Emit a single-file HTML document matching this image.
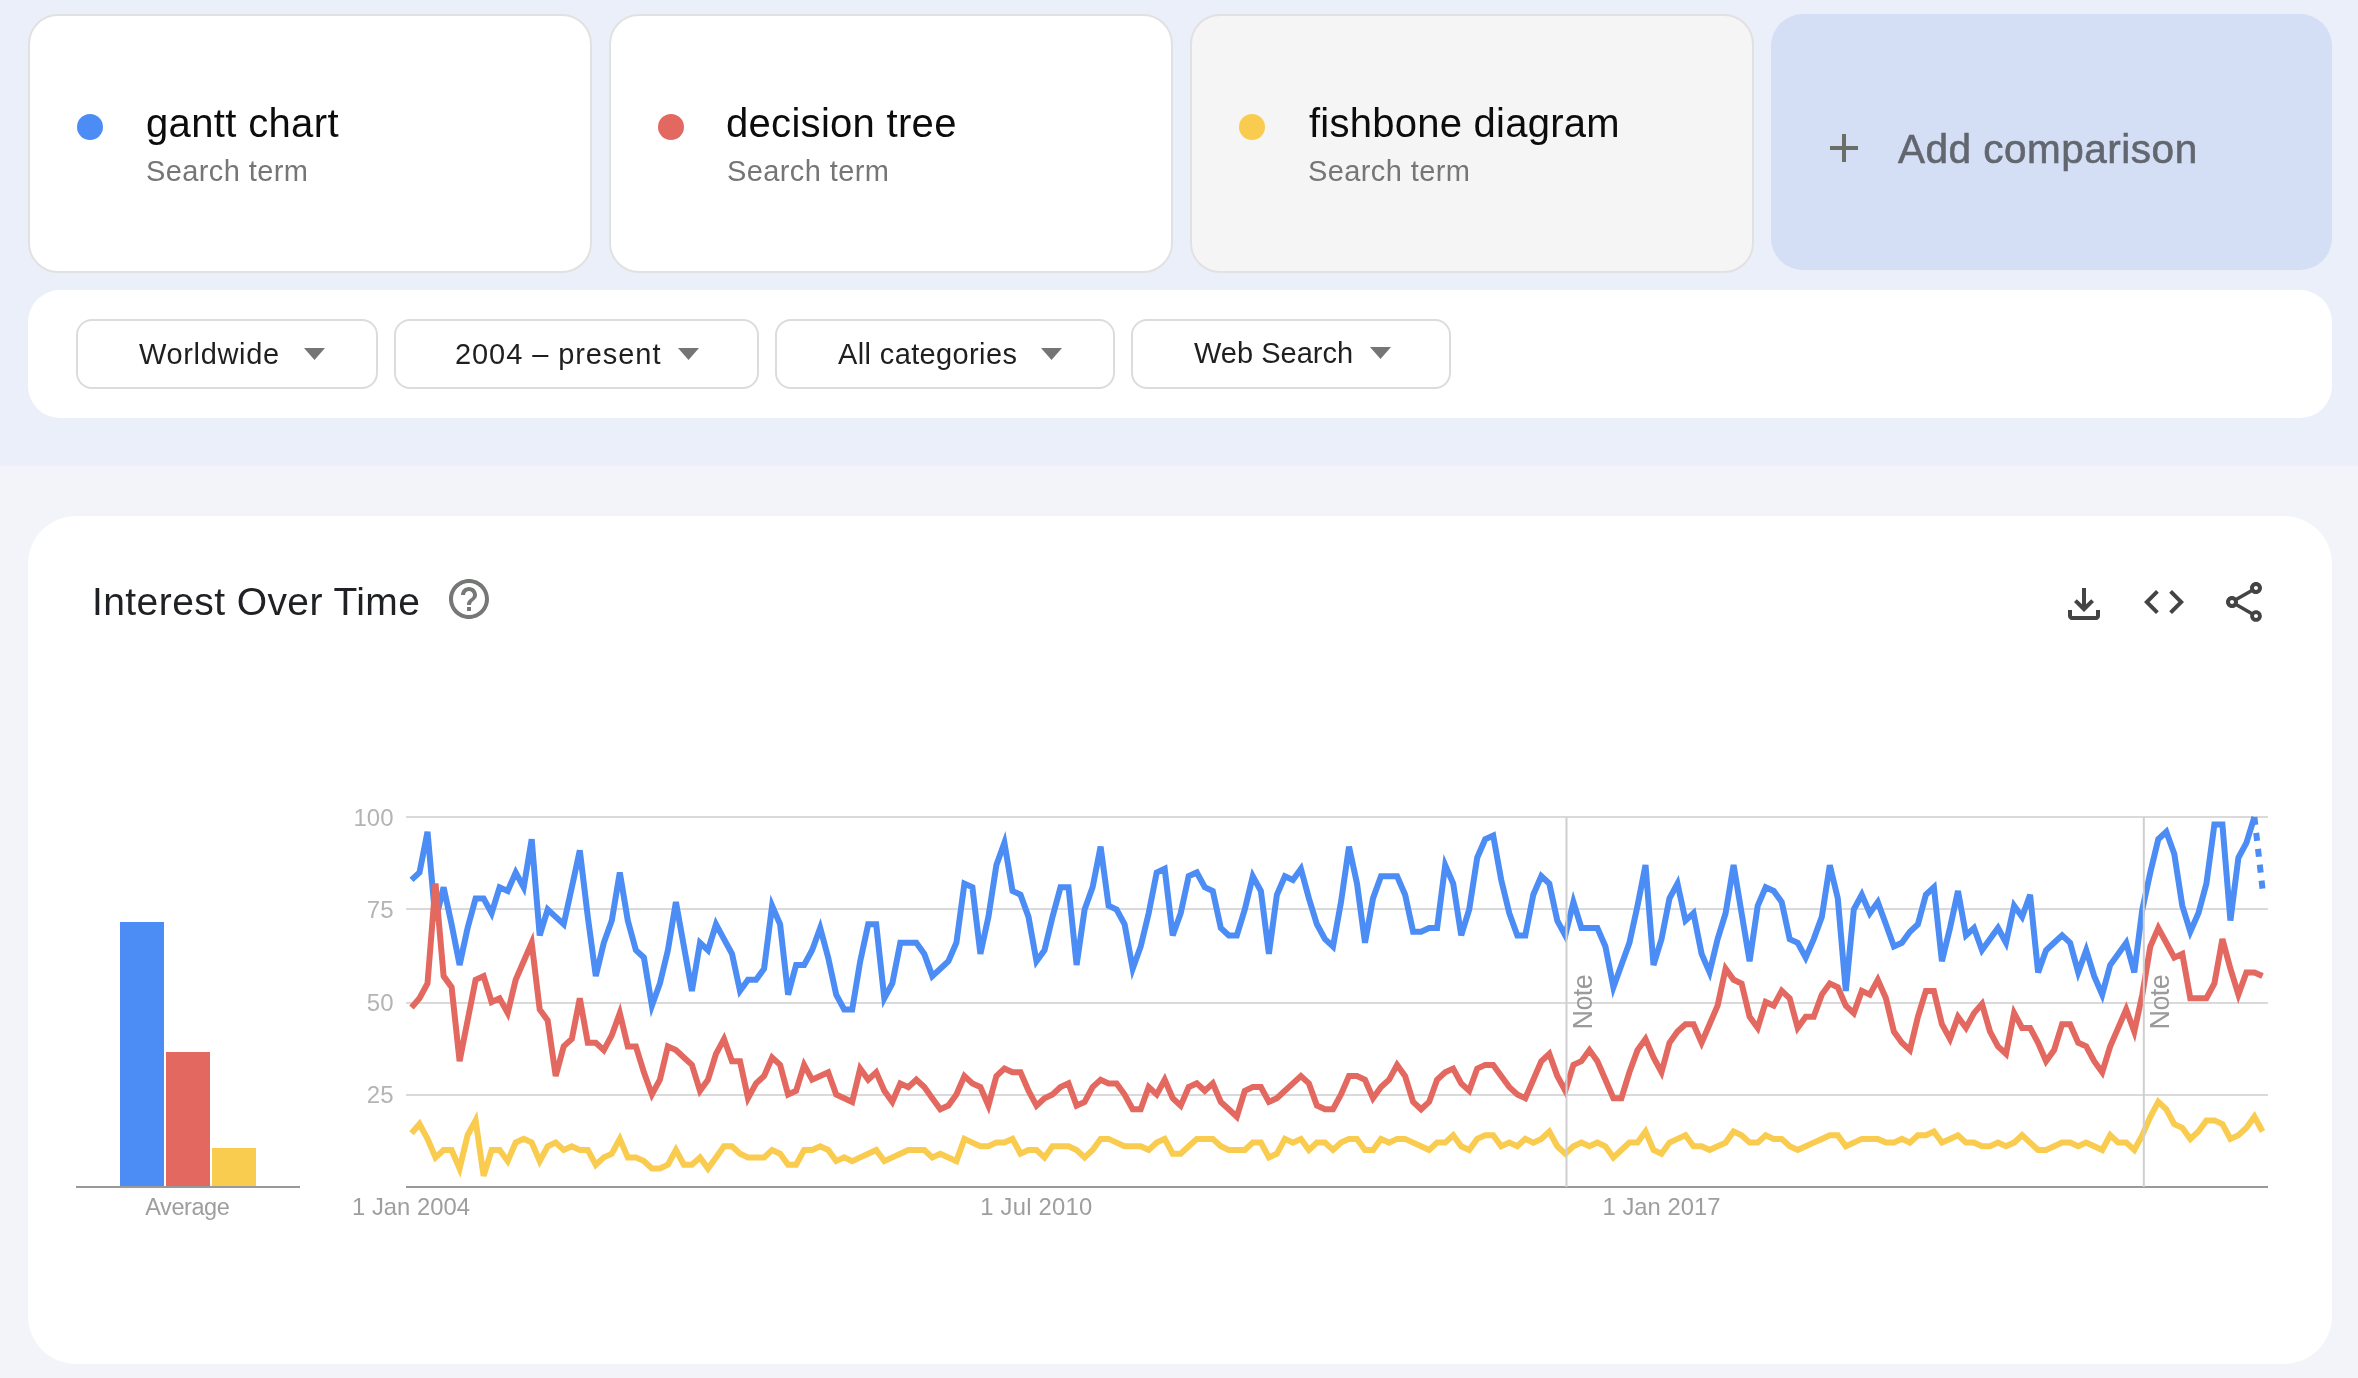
<!DOCTYPE html>
<html><head><meta charset="utf-8"><title>Trends</title>
<style>
html,body{margin:0;padding:0}
body{width:2358px;height:1378px;overflow:hidden;position:relative;background:#f2f4fa;font-family:"Liberation Sans",sans-serif;}
.band{position:absolute;left:0;top:0;width:2358px;height:466px;background:#ebeff9}
.card{position:absolute;top:14px;width:560px;height:255px;border:2px solid #e1e1e1;border-radius:30px;background:#fff}
.dot{position:absolute;left:47px;top:98px;width:26px;height:26px;border-radius:50%}
.t1{position:absolute;left:116px;top:84px;font-size:40px;line-height:46px;color:#0c0c0c;white-space:nowrap}
.t2{position:absolute;left:116px;top:138px;font-size:29px;line-height:34px;color:#767676;white-space:nowrap;letter-spacing:0.4px}
.add{position:absolute;left:1771px;top:14px;width:561px;height:256px;border-radius:32px;background:#d4def5}
.add .plus{position:absolute;left:59px;top:120px}
.add .lbl{position:absolute;left:126.5px;top:112px;font-size:40.5px;line-height:46px;color:#62676f;white-space:nowrap;letter-spacing:0.5px;-webkit-text-stroke:0.6px #62676f}
.fbar{position:absolute;left:28px;top:290px;width:2304px;height:128px;border-radius:32px;background:#fff}
.chip{position:absolute;top:319px;height:66px;border:2px solid #dcdcdc;border-radius:16px;background:#fff}
.ct{position:absolute;font-size:29px;line-height:34px;color:#1f1f1f;white-space:nowrap}
.arr{position:absolute}
.main{position:absolute;left:28px;top:516px;width:2304px;height:848px;border-radius:48px;background:#fff}
.title{position:absolute;left:92px;top:579px;font-size:39px;line-height:46px;color:#202124;white-space:nowrap;letter-spacing:0.42px}
.ico{position:absolute;width:48px;height:48px}
svg.chart{position:absolute;left:0;top:0;will-change:transform}
.t1,.t2,.ct,.title,.add .lbl{will-change:transform}
</style></head><body>
<div class="band"></div>
<div class="card" style="left:28px;background:#fff"><div class="dot" style="background:#4c8cf5"></div><div class="t1" style="left:116px;letter-spacing:0.35px">gantt chart</div><div class="t2">Search term</div></div>
<div class="card" style="left:609px;background:#fff"><div class="dot" style="background:#e36860"></div><div class="t1" style="left:114.5px;letter-spacing:0.3px">decision tree</div><div class="t2">Search term</div></div>
<div class="card" style="left:1190px;background:#f5f5f5"><div class="dot" style="background:#f9cb4e"></div><div class="t1" style="left:117px;letter-spacing:0.25px">fishbone diagram</div><div class="t2">Search term</div></div>
<div class="add"><svg class="plus" width="28" height="28" viewBox="0 0 28 28"><path d="M12 0h4v12h12v4H16v12h-4V16H0v-4h12z" fill="#6b6d68"/></svg><div class="lbl">Add comparison</div></div>
<div class="fbar"></div>
<div class="chip" style="left:76px;width:298px"><span class="ct" style="left:61px;top:16px;letter-spacing:0.65px">Worldwide</span><svg class="arr" style="left:226px;top:27px" width="21" height="12" viewBox="0 0 21 12"><path d="M0 0h21L10.5 12z" fill="#757575"/></svg></div>
<div class="chip" style="left:394px;width:361px"><span class="ct" style="left:58.69999999999999px;top:16px;letter-spacing:0.92px">2004 – present</span><svg class="arr" style="left:281.5px;top:27px" width="21" height="12" viewBox="0 0 21 12"><path d="M0 0h21L10.5 12z" fill="#757575"/></svg></div>
<div class="chip" style="left:775px;width:336px"><span class="ct" style="left:60.700000000000045px;top:16px;letter-spacing:0.37px">All categories</span><svg class="arr" style="left:264.4000000000001px;top:27px" width="21" height="12" viewBox="0 0 21 12"><path d="M0 0h21L10.5 12z" fill="#757575"/></svg></div>
<div class="chip" style="left:1131px;width:316px"><span class="ct" style="left:60.59999999999991px;top:15px;letter-spacing:0px">Web Search</span><svg class="arr" style="left:237px;top:26px" width="21" height="12" viewBox="0 0 21 12"><path d="M0 0h21L10.5 12z" fill="#757575"/></svg></div>
<div class="main"></div>
<div class="title">Interest Over Time</div>
<svg class="ico" style="left:445px;top:575px" viewBox="0 0 24 24"><path fill="#767876" d="M11 18h2v-2h-2v2zm1-16C6.48 2 2 6.48 2 12s4.48 10 10 10 10-4.48 10-10S17.52 2 12 2zm0 18c-4.41 0-8-3.59-8-8s3.59-8 8-8 8 3.59 8 8-3.59 8-8 8zm0-14c-2.21 0-4 1.79-4 4h2c0-1.1.9-2 2-2s2 .9 2 2c0 2-3 1.75-3 5h2c0-2.25 3-2.5 3-5 0-2.21-1.79-4-4-4z"/></svg>
<svg class="ico" style="left:2060px;top:580px" viewBox="0 0 24 24"><path fill="#444" d="M18 15v3H6v-3H4v3c0 1.1.9 2 2 2h12c1.1 0 2-.9 2-2v-3h-2zm-1-4l-1.41-1.41L13 12.17V4h-2v8.17L8.41 9.59 7 11l5 5 5-5z"/></svg>
<svg class="ico" style="left:2140px;top:578px" viewBox="0 0 24 24"><path fill="#444" d="M9.4 16.6L4.8 12l4.6-4.6L8 6l-6 6 6 6 1.4-1.4zm5.2 0l4.6-4.6-4.6-4.6L16 6l6 6-6 6-1.4-1.4z"/></svg>
<svg class="ico" style="left:2220px;top:578px" viewBox="0 0 24 24"><path fill="#444" d="M18 16.08c-.76 0-1.44.3-1.96.77L8.91 12.7c.05-.23.09-.46.09-.7s-.04-.47-.09-.7l7.05-4.11c.54.5 1.25.81 2.04.81 1.66 0 3-1.34 3-3s-1.34-3-3-3-3 1.34-3 3c0 .24.04.47.09.7L8.04 9.81C7.5 9.31 6.79 9 6 9c-1.66 0-3 1.34-3 3s1.34 3 3 3c.79 0 1.5-.31 2.04-.81l7.12 4.16c-.05.21-.08.43-.08.65 0 1.61 1.31 2.92 2.92 2.92s2.92-1.31 2.92-2.92-1.31-2.92-2.92-2.92zM18 4c.55 0 1 .45 1 1s-.45 1-1 1-1-.45-1-1 .45-1 1-1zM6 13c-.55 0-1-.45-1-1s.45-1 1-1 1 .45 1 1-.45 1-1 1zm12 7.02c-.55 0-1-.45-1-1s.45-1 1-1 1 .45 1 1-.45 1-1 1z"/></svg>
<svg class="chart" width="2358" height="1378" viewBox="0 0 2358 1378">
<rect x="406" y="816" width="1862" height="2" fill="#dadada"/>
<rect x="406" y="908" width="1862" height="2" fill="#dadada"/>
<rect x="406" y="1002" width="1862" height="2" fill="#dadada"/>
<rect x="406" y="1094" width="1862" height="2" fill="#dadada"/>
<rect x="406" y="1186" width="1862" height="2" fill="#999"/>
<rect x="76" y="1186" width="224" height="2" fill="#999"/>
<rect x="120" y="922" width="44" height="264" fill="#4c8cf5"/>
<rect x="166" y="1052" width="44" height="134" fill="#e36860"/>
<rect x="212" y="1148" width="44" height="38" fill="#f9cb4e"/>
<path d="M411.5,879.9 L419.5,872.5 L427.5,831.8 L435.5,920.6 L443.6,887.3 L451.6,924.3 L459.6,965.0 L467.6,928.0 L475.6,898.4 L483.6,898.4 L491.6,913.2 L499.6,887.3 L507.7,891.0 L515.7,872.5 L523.7,887.3 L531.7,839.2 L539.7,935.4 L547.7,909.5 L555.7,916.9 L563.7,924.3 L571.8,887.3 L579.8,850.3 L587.8,916.9 L595.8,976.1 L603.8,942.8 L611.8,920.6 L619.8,872.5 L627.8,920.6 L635.9,950.2 L643.9,957.6 L651.9,1005.7 L659.9,983.5 L667.9,950.2 L675.9,902.1 L683.9,946.5 L691.9,990.9 L700.0,942.8 L708.0,950.2 L716.0,924.3 L724.0,939.1 L732.0,953.9 L740.0,990.9 L748.0,979.8 L756.1,979.8 L764.1,968.7 L772.1,905.8 L780.1,924.3 L788.1,994.6 L796.1,965.0 L804.1,965.0 L812.1,950.2 L820.2,928.0 L828.2,957.6 L836.2,994.6 L844.2,1009.4 L852.2,1009.4 L860.2,961.3 L868.2,924.3 L876.2,924.3 L884.3,998.3 L892.3,983.5 L900.3,942.8 L908.3,942.8 L916.3,942.8 L924.3,953.9 L932.3,976.1 L940.3,968.7 L948.4,961.3 L956.4,942.8 L964.4,883.6 L972.4,887.3 L980.4,953.9 L988.4,916.9 L996.4,865.1 L1004.4,842.9 L1012.5,891.0 L1020.5,894.7 L1028.5,916.9 L1036.5,961.3 L1044.5,950.2 L1052.5,916.9 L1060.5,887.3 L1068.5,887.3 L1076.6,965.0 L1084.6,909.5 L1092.6,887.3 L1100.6,846.6 L1108.6,905.8 L1116.6,909.5 L1124.6,924.3 L1132.7,968.7 L1140.7,946.5 L1148.7,913.2 L1156.7,872.5 L1164.7,868.8 L1172.7,935.4 L1180.7,913.2 L1188.7,876.2 L1196.8,872.5 L1204.8,887.3 L1212.8,891.0 L1220.8,928.0 L1228.8,935.4 L1236.8,935.4 L1244.8,909.5 L1252.8,876.2 L1260.9,891.0 L1268.9,953.9 L1276.9,894.7 L1284.9,876.2 L1292.9,879.9 L1300.9,868.8 L1308.9,898.4 L1316.9,924.3 L1325.0,939.1 L1333.0,946.5 L1341.0,902.1 L1349.0,846.6 L1357.0,883.6 L1365.0,942.8 L1373.0,898.4 L1381.0,876.2 L1389.1,876.2 L1397.1,876.2 L1405.1,894.7 L1413.1,931.7 L1421.1,931.7 L1429.1,928.0 L1437.1,928.0 L1445.2,865.1 L1453.2,883.6 L1461.2,935.4 L1469.2,909.5 L1477.2,857.7 L1485.2,839.2 L1493.2,835.5 L1501.2,879.9 L1509.3,913.2 L1517.3,935.4 L1525.3,935.4 L1533.3,894.7 L1541.3,876.2 L1549.3,883.6 L1557.3,920.6 L1565.3,935.4 L1573.4,902.1 L1581.4,928.0 L1589.4,928.0 L1597.4,928.0 L1605.4,946.5 L1613.4,987.2 L1621.4,965.0 L1629.4,942.8 L1637.5,905.8 L1645.5,865.1 L1653.5,965.0 L1661.5,939.1 L1669.5,898.4 L1677.5,883.6 L1685.5,920.6 L1693.5,913.2 L1701.6,953.9 L1709.6,972.4 L1717.6,939.1 L1725.6,913.2 L1733.6,865.1 L1741.6,913.2 L1749.6,961.3 L1757.7,905.8 L1765.7,887.3 L1773.7,891.0 L1781.7,902.1 L1789.7,939.1 L1797.7,942.8 L1805.7,957.6 L1813.7,939.1 L1821.8,916.9 L1829.8,865.1 L1837.8,898.4 L1845.8,990.9 L1853.8,909.5 L1861.8,894.7 L1869.8,913.2 L1877.8,902.1 L1885.9,924.3 L1893.9,946.5 L1901.9,942.8 L1909.9,931.7 L1917.9,924.3 L1925.9,894.7 L1933.9,887.3 L1941.9,961.3 L1950.0,928.0 L1958.0,891.0 L1966.0,935.4 L1974.0,928.0 L1982.0,950.2 L1990.0,939.1 L1998.0,928.0 L2006.0,942.8 L2014.1,905.8 L2022.1,916.9 L2030.1,894.7 L2038.1,972.4 L2046.1,950.2 L2054.1,942.8 L2062.1,935.4 L2070.1,942.8 L2078.2,972.4 L2086.2,950.2 L2094.2,976.1 L2102.2,994.6 L2110.2,965.0 L2118.2,953.9 L2126.2,942.8 L2134.3,972.4 L2142.3,909.5 L2150.3,872.5 L2158.3,839.2 L2166.3,831.8 L2174.3,854.0 L2182.3,905.8 L2190.3,931.7 L2198.4,913.2 L2206.4,883.6 L2214.4,824.4 L2222.4,824.4 L2230.4,920.6 L2238.4,857.7 L2246.4,842.9 L2254.4,817.0" fill="none" stroke="#4c8cf5" stroke-width="6" stroke-linejoin="miter" stroke-miterlimit="4"/><path d="M2254.4,817.0 L2262.5,888.8" fill="none" stroke="#4c8cf5" stroke-width="6" stroke-dasharray="8 8"/>
<path d="M411.5,1007.5 L419.5,998.3 L427.5,983.5 L435.5,883.6 L443.6,976.1 L451.6,987.2 L459.6,1061.2 L467.6,1020.5 L475.6,979.8 L483.6,976.1 L491.6,1002.0 L499.6,998.3 L507.7,1013.1 L515.7,979.8 L523.7,961.3 L531.7,942.8 L539.7,1009.4 L547.7,1020.5 L555.7,1076.0 L563.7,1046.4 L571.8,1039.0 L579.8,998.3 L587.8,1042.7 L595.8,1042.7 L603.8,1050.1 L611.8,1035.3 L619.8,1013.1 L627.8,1046.4 L635.9,1046.4 L643.9,1072.3 L651.9,1094.5 L659.9,1079.7 L667.9,1046.4 L675.9,1050.1 L683.9,1057.5 L691.9,1064.9 L700.0,1090.8 L708.0,1079.7 L716.0,1053.8 L724.0,1039.0 L732.0,1061.2 L740.0,1061.2 L748.0,1098.2 L756.1,1083.4 L764.1,1076.0 L772.1,1057.5 L780.1,1064.9 L788.1,1094.5 L796.1,1090.8 L804.1,1064.9 L812.1,1079.7 L820.2,1076.0 L828.2,1072.3 L836.2,1094.5 L844.2,1098.2 L852.2,1101.9 L860.2,1068.6 L868.2,1079.7 L876.2,1072.3 L884.3,1090.8 L892.3,1101.9 L900.3,1083.4 L908.3,1087.1 L916.3,1079.7 L924.3,1087.1 L932.3,1098.2 L940.3,1109.3 L948.4,1105.6 L956.4,1094.5 L964.4,1076.0 L972.4,1083.4 L980.4,1087.1 L988.4,1105.6 L996.4,1076.0 L1004.4,1068.6 L1012.5,1072.3 L1020.5,1072.3 L1028.5,1090.8 L1036.5,1105.6 L1044.5,1098.2 L1052.5,1094.5 L1060.5,1087.1 L1068.5,1083.4 L1076.6,1105.6 L1084.6,1101.9 L1092.6,1087.1 L1100.6,1079.7 L1108.6,1083.4 L1116.6,1083.4 L1124.6,1094.5 L1132.7,1109.3 L1140.7,1109.3 L1148.7,1087.1 L1156.7,1094.5 L1164.7,1079.7 L1172.7,1098.2 L1180.7,1105.6 L1188.7,1087.1 L1196.8,1083.4 L1204.8,1090.8 L1212.8,1083.4 L1220.8,1101.9 L1228.8,1109.3 L1236.8,1116.7 L1244.8,1090.8 L1252.8,1087.1 L1260.9,1087.1 L1268.9,1101.9 L1276.9,1098.2 L1284.9,1090.8 L1292.9,1083.4 L1300.9,1076.0 L1308.9,1083.4 L1316.9,1105.6 L1325.0,1109.3 L1333.0,1109.3 L1341.0,1094.5 L1349.0,1076.0 L1357.0,1076.0 L1365.0,1079.7 L1373.0,1098.2 L1381.0,1087.1 L1389.1,1079.7 L1397.1,1064.9 L1405.1,1076.0 L1413.1,1101.9 L1421.1,1109.3 L1429.1,1101.9 L1437.1,1079.7 L1445.2,1072.3 L1453.2,1068.6 L1461.2,1083.4 L1469.2,1090.8 L1477.2,1068.6 L1485.2,1064.9 L1493.2,1064.9 L1501.2,1076.0 L1509.3,1087.1 L1517.3,1094.5 L1525.3,1098.2 L1533.3,1079.7 L1541.3,1061.2 L1549.3,1053.8 L1557.3,1076.0 L1565.3,1090.8 L1573.4,1064.9 L1581.4,1061.2 L1589.4,1050.1 L1597.4,1061.2 L1605.4,1079.7 L1613.4,1098.2 L1621.4,1098.2 L1629.4,1072.3 L1637.5,1050.1 L1645.5,1039.0 L1653.5,1057.5 L1661.5,1072.3 L1669.5,1042.7 L1677.5,1031.6 L1685.5,1024.2 L1693.5,1024.2 L1701.6,1042.7 L1709.6,1024.2 L1717.6,1005.7 L1725.6,968.7 L1733.6,979.8 L1741.6,983.5 L1749.6,1016.8 L1757.7,1027.9 L1765.7,1002.0 L1773.7,1005.7 L1781.7,990.9 L1789.7,998.3 L1797.7,1027.9 L1805.7,1016.8 L1813.7,1016.8 L1821.8,994.6 L1829.8,983.5 L1837.8,987.2 L1845.8,1005.7 L1853.8,1013.1 L1861.8,990.9 L1869.8,994.6 L1877.8,979.8 L1885.9,998.3 L1893.9,1031.6 L1901.9,1042.7 L1909.9,1050.1 L1917.9,1016.8 L1925.9,990.9 L1933.9,990.9 L1941.9,1024.2 L1950.0,1039.0 L1958.0,1016.8 L1966.0,1027.9 L1974.0,1013.1 L1982.0,1003.9 L1990.0,1031.6 L1998.0,1046.4 L2006.0,1053.8 L2014.1,1013.1 L2022.1,1027.9 L2030.1,1027.9 L2038.1,1042.7 L2046.1,1061.2 L2054.1,1050.1 L2062.1,1024.2 L2070.1,1024.2 L2078.2,1042.7 L2086.2,1046.4 L2094.2,1061.2 L2102.2,1072.3 L2110.2,1046.4 L2118.2,1027.9 L2126.2,1009.4 L2134.3,1031.6 L2142.3,994.6 L2150.3,946.5 L2158.3,928.0 L2166.3,942.8 L2174.3,957.6 L2182.3,953.9 L2190.3,998.3 L2198.4,998.3 L2206.4,998.3 L2214.4,983.5 L2222.4,939.1 L2230.4,968.7 L2238.4,994.6 L2246.4,972.4 L2254.4,972.4 L2262.5,976.1" fill="none" stroke="#e36860" stroke-width="6" stroke-linejoin="miter" stroke-miterlimit="4"/>
<path d="M411.5,1133.3 L419.5,1124.1 L427.5,1138.9 L435.5,1157.4 L443.6,1150.0 L451.6,1150.0 L459.6,1168.5 L467.6,1135.2 L475.6,1120.4 L483.6,1175.9 L491.6,1150.0 L499.6,1150.0 L507.7,1161.1 L515.7,1142.6 L523.7,1138.9 L531.7,1142.6 L539.7,1161.1 L547.7,1146.3 L555.7,1142.6 L563.7,1150.0 L571.8,1146.3 L579.8,1150.0 L587.8,1150.0 L595.8,1164.8 L603.8,1157.4 L611.8,1153.7 L619.8,1138.9 L627.8,1157.4 L635.9,1157.4 L643.9,1161.1 L651.9,1168.5 L659.9,1168.5 L667.9,1164.8 L675.9,1150.0 L683.9,1164.8 L691.9,1164.8 L700.0,1157.4 L708.0,1168.5 L716.0,1157.4 L724.0,1146.3 L732.0,1146.3 L740.0,1153.7 L748.0,1157.4 L756.1,1157.4 L764.1,1157.4 L772.1,1150.0 L780.1,1153.7 L788.1,1164.8 L796.1,1164.8 L804.1,1150.0 L812.1,1150.0 L820.2,1146.3 L828.2,1150.0 L836.2,1161.1 L844.2,1157.4 L852.2,1161.1 L860.2,1157.4 L868.2,1153.7 L876.2,1150.0 L884.3,1161.1 L892.3,1157.4 L900.3,1153.7 L908.3,1150.0 L916.3,1150.0 L924.3,1150.0 L932.3,1157.4 L940.3,1153.7 L948.4,1157.4 L956.4,1161.1 L964.4,1138.9 L972.4,1142.6 L980.4,1146.3 L988.4,1146.3 L996.4,1142.6 L1004.4,1142.6 L1012.5,1138.9 L1020.5,1153.7 L1028.5,1150.0 L1036.5,1150.0 L1044.5,1157.4 L1052.5,1146.3 L1060.5,1146.3 L1068.5,1146.3 L1076.6,1150.0 L1084.6,1157.4 L1092.6,1150.0 L1100.6,1138.9 L1108.6,1138.9 L1116.6,1142.6 L1124.6,1146.3 L1132.7,1146.3 L1140.7,1146.3 L1148.7,1150.0 L1156.7,1142.6 L1164.7,1138.9 L1172.7,1153.7 L1180.7,1153.7 L1188.7,1146.3 L1196.8,1138.9 L1204.8,1138.9 L1212.8,1138.9 L1220.8,1146.3 L1228.8,1150.0 L1236.8,1150.0 L1244.8,1150.0 L1252.8,1142.6 L1260.9,1142.6 L1268.9,1157.4 L1276.9,1153.7 L1284.9,1138.9 L1292.9,1142.6 L1300.9,1138.9 L1308.9,1150.0 L1316.9,1142.6 L1325.0,1142.6 L1333.0,1150.0 L1341.0,1142.6 L1349.0,1138.9 L1357.0,1138.9 L1365.0,1150.0 L1373.0,1150.0 L1381.0,1138.9 L1389.1,1142.6 L1397.1,1138.9 L1405.1,1138.9 L1413.1,1142.6 L1421.1,1146.3 L1429.1,1150.0 L1437.1,1142.6 L1445.2,1142.6 L1453.2,1135.2 L1461.2,1146.3 L1469.2,1150.0 L1477.2,1138.9 L1485.2,1135.2 L1493.2,1135.2 L1501.2,1146.3 L1509.3,1142.6 L1517.3,1146.3 L1525.3,1138.9 L1533.3,1142.6 L1541.3,1138.9 L1549.3,1131.5 L1557.3,1146.3 L1565.3,1153.7 L1573.4,1146.3 L1581.4,1142.6 L1589.4,1146.3 L1597.4,1142.6 L1605.4,1146.3 L1613.4,1157.4 L1621.4,1150.0 L1629.4,1142.6 L1637.5,1142.6 L1645.5,1131.5 L1653.5,1150.0 L1661.5,1153.7 L1669.5,1142.6 L1677.5,1138.9 L1685.5,1135.2 L1693.5,1146.3 L1701.6,1146.3 L1709.6,1150.0 L1717.6,1146.3 L1725.6,1142.6 L1733.6,1131.5 L1741.6,1135.2 L1749.6,1142.6 L1757.7,1142.6 L1765.7,1135.2 L1773.7,1138.9 L1781.7,1138.9 L1789.7,1146.3 L1797.7,1150.0 L1805.7,1146.3 L1813.7,1142.6 L1821.8,1138.9 L1829.8,1135.2 L1837.8,1135.2 L1845.8,1146.3 L1853.8,1142.6 L1861.8,1138.9 L1869.8,1138.9 L1877.8,1138.9 L1885.9,1142.6 L1893.9,1142.6 L1901.9,1138.9 L1909.9,1142.6 L1917.9,1135.2 L1925.9,1135.2 L1933.9,1131.5 L1941.9,1142.6 L1950.0,1138.9 L1958.0,1135.2 L1966.0,1142.6 L1974.0,1142.6 L1982.0,1146.3 L1990.0,1146.3 L1998.0,1142.6 L2006.0,1146.3 L2014.1,1142.6 L2022.1,1135.2 L2030.1,1142.6 L2038.1,1150.0 L2046.1,1150.0 L2054.1,1146.3 L2062.1,1142.6 L2070.1,1142.6 L2078.2,1146.3 L2086.2,1142.6 L2094.2,1146.3 L2102.2,1150.0 L2110.2,1135.2 L2118.2,1142.6 L2126.2,1142.6 L2134.3,1150.0 L2142.3,1135.2 L2150.3,1116.7 L2158.3,1101.9 L2166.3,1109.3 L2174.3,1124.1 L2182.3,1127.8 L2190.3,1138.9 L2198.4,1131.5 L2206.4,1120.4 L2214.4,1120.4 L2222.4,1124.1 L2230.4,1138.9 L2238.4,1135.2 L2246.4,1127.8 L2254.4,1116.7 L2262.5,1131.5" fill="none" stroke="#f9cb4e" stroke-width="6" stroke-linejoin="miter" stroke-miterlimit="4"/>
<rect x="1565.5" y="817" width="2" height="370" fill="#cfcfcf"/>
<rect x="2142.8" y="817" width="2" height="370" fill="#cfcfcf"/>
<text x="393.5" y="826" text-anchor="end" font-family="Liberation Sans, sans-serif" font-size="24" fill="#b4b4b4">100</text>
<text x="393.5" y="918" text-anchor="end" font-family="Liberation Sans, sans-serif" font-size="24" fill="#b4b4b4">75</text>
<text x="393.5" y="1011" text-anchor="end" font-family="Liberation Sans, sans-serif" font-size="24" fill="#b4b4b4">50</text>
<text x="393.5" y="1103.2" text-anchor="end" font-family="Liberation Sans, sans-serif" font-size="24" fill="#b4b4b4">25</text>
<text x="411" y="1214.5" text-anchor="middle" font-family="Liberation Sans, sans-serif" font-size="23.8" letter-spacing="0" fill="#9e9e9e">1 Jan 2004</text>
<text x="1036.4" y="1214.5" text-anchor="middle" font-family="Liberation Sans, sans-serif" font-size="23.8" letter-spacing="0.25" fill="#9e9e9e">1 Jul 2010</text>
<text x="1661.5" y="1214.5" text-anchor="middle" font-family="Liberation Sans, sans-serif" font-size="23.8" letter-spacing="0" fill="#9e9e9e">1 Jan 2017</text>
<text x="187.3" y="1214.5" text-anchor="middle" font-family="Liberation Sans, sans-serif" font-size="23.5" letter-spacing="-0.45" fill="#9e9e9e">Average</text>
<text transform="translate(1591.7,1029.5) rotate(-90)" font-family="Liberation Sans, sans-serif" font-size="27" letter-spacing="-0.6" fill="#9a9a9a">Note</text>
<text transform="translate(2168.9,1029.5) rotate(-90)" font-family="Liberation Sans, sans-serif" font-size="27" letter-spacing="-0.6" fill="#9a9a9a">Note</text>
</svg>
</body></html>
